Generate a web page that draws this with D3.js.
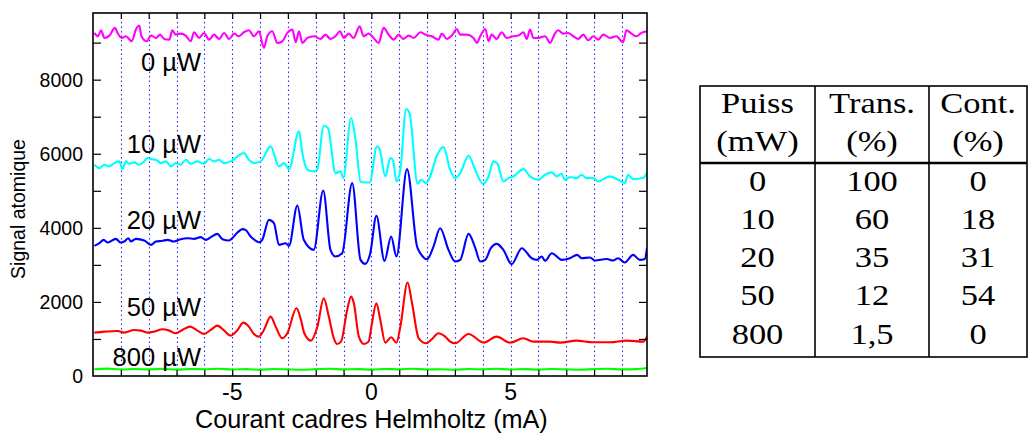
<!DOCTYPE html>
<html><head><meta charset="utf-8">
<script src="https://cdn.jsdelivr.net/npm/d3@7"></script>
<style>html,body{margin:0;padding:0;background:#fff;}svg{display:block;}</style>
</head><body>
<svg id="c" width="1029" height="433"></svg>
<script>
// ---- data ----
const xTickLabels = [-5, 0, 5];
const xMinorTicks = [-9,-8,-7,-6,-5,-4,-3,-2,-1,0,1,2,3,4,5,6,7,8,9];
const yTickLabels = [0, 2000, 4000, 6000, 8000];
const yMinorTicks = [1000,2000,3000,4000,5000,6000,7000,8000,9000];

const s0 = [[-9.95,9262],[-9.83,9172],[-9.71,9334],[-9.59,9127],[-9.41,9190],[-9.21,9398],[-9.12,9262],[-8.97,9127],[-8.82,9172],[-8.61,9037],[-8.46,9352],[-8.34,9461],[-8.26,9172],[-8.07,9037],[-7.92,9190],[-7.74,9127],[-7.59,9217],[-7.44,9100],[-7.26,9082],[-7.15,9334],[-7.03,9217],[-6.85,9244],[-6.67,9190],[-6.49,9037],[-6.37,9280],[-6.19,9127],[-6.01,9262],[-5.83,9082],[-5.65,9217],[-5.47,9100],[-5.29,9262],[-5.11,9100],[-4.93,9244],[-4.76,9172],[-4.58,9280],[-4.40,9334],[-4.22,9172],[-4.04,9307],[-3.86,8857],[-3.74,9172],[-3.56,9307],[-3.38,8992],[-3.20,9037],[-3.02,9262],[-2.84,9352],[-2.72,9010],[-2.60,9307],[-2.48,8992],[-2.30,9127],[-2.06,9172],[-1.83,9100],[-1.65,9217],[-1.47,9100],[-1.29,9172],[-1.13,9307],[-0.99,9127],[-0.81,9244],[-0.64,9127],[-0.42,9442],[-0.28,9172],[-0.10,9244],[0.08,9127],[0.26,8992],[0.44,9398],[0.62,9217],[0.80,9082],[0.98,9217],[1.14,9100],[1.34,9190],[1.52,9127],[1.76,9280],[1.94,9217],[2.17,9172],[2.41,9082],[2.53,9244],[2.71,9100],[2.89,9190],[3.07,9370],[3.19,9217],[3.43,9217],[3.67,9127],[3.79,8992],[3.91,9172],[4.09,9370],[4.21,9037],[4.32,9217],[4.50,9100],[4.68,9280],[4.86,9127],[5.10,9172],[5.28,9190],[5.46,9280],[5.58,9100],[5.70,9352],[5.82,9127],[6.00,9127],[6.24,9172],[6.42,8992],[6.59,9244],[6.71,9334],[6.89,9244],[7.07,9262],[7.25,9172],[7.43,9100],[7.61,9217],[7.79,9064],[7.97,9172],[8.15,9082],[8.33,9217],[8.57,9127],[8.80,9172],[9.04,9010],[9.16,9334],[9.34,9244],[9.52,9172],[9.70,9262],[9.90,9307]];

const s10 = [[-9.95,5703],[-9.77,5613],[-9.59,5703],[-9.41,5658],[-9.24,5748],[-9.06,5793],[-8.94,5586],[-8.82,5793],[-8.70,5730],[-8.52,5766],[-8.34,5703],[-8.16,5793],[-8.04,5884],[-7.92,5857],[-7.74,5838],[-7.56,5748],[-7.38,5793],[-7.20,5658],[-7.03,5748],[-6.85,5703],[-6.67,5838],[-6.49,5730],[-6.25,5793],[-6.01,5730],[-5.83,5857],[-5.65,5793],[-5.47,5838],[-5.29,5748],[-5.05,5793],[-4.81,5929],[-4.58,6019],[-4.40,5838],[-4.22,5748],[-3.98,5793],[-3.62,6199],[-3.32,5658],[-3.14,5748],[-2.96,5586],[-2.60,6604],[-2.48,6019],[-2.30,5568],[-2.06,5523],[-1.95,5568],[-1.71,6758],[-1.56,6694],[-1.29,5478],[-1.11,5523],[-1.01,5343],[-0.73,6965],[-0.57,6379],[-0.39,5252],[-0.22,5225],[-0.06,5225],[0.20,6198],[0.30,6109],[0.50,5387],[0.68,5884],[0.78,5820],[0.90,5252],[1.04,5568],[1.25,7209],[1.37,7100],[1.66,5190],[1.78,5298],[1.97,5209],[2.11,5387],[2.35,5947],[2.59,6180],[2.83,5568],[3.01,5341],[3.19,5478],[3.49,5947],[3.73,5568],[4.00,5190],[4.21,5387],[4.38,5793],[4.53,5730],[4.74,5253],[4.92,5343],[5.10,5388],[5.46,5586],[5.70,5388],[6.00,5298],[6.24,5433],[6.48,5496],[6.65,5388],[6.83,5460],[6.95,5298],[7.13,5370],[7.37,5343],[7.55,5433],[7.73,5343],[7.97,5343],[8.15,5253],[8.33,5316],[8.57,5388],[8.86,5298],[9.10,5208],[9.22,5433],[9.40,5316],[9.76,5343],[9.90,5496]];

const s20 = [[-9.95,3514],[-9.77,3585],[-9.62,3676],[-9.47,3603],[-9.18,3703],[-9.00,3603],[-8.88,3630],[-8.73,3720],[-8.64,3630],[-8.46,3703],[-8.16,3657],[-7.92,3541],[-7.74,3630],[-7.50,3650],[-7.32,3676],[-7.09,3630],[-6.85,3694],[-6.60,3720],[-6.37,3703],[-6.13,3748],[-5.95,3676],[-5.77,3748],[-5.53,3838],[-5.35,3694],[-5.11,3657],[-5.00,3720],[-4.81,3874],[-4.63,3965],[-4.52,3946],[-4.34,3766],[-4.16,3657],[-4.04,3610],[-3.92,3676],[-3.68,4216],[-3.50,4126],[-3.32,3541],[-3.08,3585],[-2.96,3514],[-2.66,4603],[-2.43,3676],[-2.07,3406],[-1.73,5010],[-1.47,3406],[-1.29,3225],[-1.05,3315],[-0.69,5207],[-0.39,3135],[-0.22,3027],[-0.04,3316],[0.18,4325],[0.47,3108],[0.71,3765],[0.90,3225],[1.28,5585],[1.64,3495],[1.76,3315],[2.00,3150],[2.23,3495],[2.47,3990],[2.77,3405],[3.01,3090],[3.19,3135],[3.49,3838],[3.73,3460],[3.91,3090],[4.09,3135],[4.29,3450],[4.50,3568],[4.74,3405],[5.04,3018],[5.40,3450],[5.76,3180],[5.94,3135],[6.12,3225],[6.24,3108],[6.48,3315],[6.84,3135],[7.13,3180],[7.39,3270],[7.55,3180],[7.85,3200],[8.03,3117],[8.45,3160],[8.68,3117],[8.86,3180],[9.10,3063],[9.40,3270],[9.64,3135],[9.82,3160],[9.90,3460]];

const s50 = [[-9.95,1171],[-9.59,1198],[-9.12,1216],[-8.88,1171],[-8.52,1243],[-8.28,1225],[-8.04,1171],[-7.80,1198],[-7.50,1261],[-7.26,1225],[-7.03,1153],[-6.79,1243],[-6.51,1333],[-6.25,1225],[-6.01,1135],[-5.77,1243],[-5.53,1360],[-5.29,1225],[-5.05,1090],[-4.81,1243],[-4.60,1441],[-4.40,1333],[-4.22,1135],[-4.04,1063],[-3.86,1243],[-3.62,1603],[-3.44,1333],[-3.20,1018],[-3.02,1153],[-2.69,1829],[-2.53,1514],[-2.41,1153],[-2.17,955],[-1.94,1333],[-1.71,2099],[-1.53,1604],[-1.35,1018],[-1.23,865],[-1.09,928],[-0.87,1784],[-0.73,2144],[-0.63,1964],[-0.45,1063],[-0.27,865],[-0.10,928],[0.02,1424],[0.18,1964],[0.32,1514],[0.50,901],[0.71,1045],[0.90,901],[1.04,1333],[1.30,2523],[1.46,1964],[1.70,1018],[1.97,883],[2.17,991],[2.41,1153],[2.65,1063],[2.83,928],[3.01,883],[3.49,1135],[4.03,901],[4.50,1063],[4.98,901],[5.46,1018],[5.82,928],[6.42,928],[6.78,901],[7.37,955],[7.97,910],[8.57,910],[9.16,955],[9.76,928],[9.90,1063]];

const s800 = [[-9.95,181],[-9.5,200],[-9.0,175],[-8.5,190],[-8.0,178],[-7.5,195],[-7.0,172],[-6.5,188],[-6.0,182],[-5.5,196],[-5.0,176],[-4.5,185],[-4.0,170],[-3.5,190],[-3.0,178],[-2.5,168],[-2.0,185],[-1.5,195],[-1.0,178],[-0.5,186],[0.0,172],[0.5,190],[1.0,180],[1.5,196],[2.0,176],[2.5,184],[3.0,170],[3.5,188],[4.0,180],[4.5,194],[5.0,175],[5.5,186],[6.0,172],[6.5,190],[7.0,180],[7.5,170],[8.0,185],[8.5,195],[9.0,178],[9.5,186],[9.9,215]];

const seriesNames = ["0 µW", "10 µW", "20 µW", "50 µW", "800 µW"];
const seriesColors = ["#ff00ff", "#00ffff", "#0000ff", "#ff0000", "#00ff00"];
const seriesData = [s0, s10, s20, s50, s800];
const labelY = [8234, 6020, 3969, 1620, 270]; // label baseline positions, in data units

const tableHeader1 = ["Puiss", "Trans.", "Cont."];
const tableHeader2 = ["(mW)", "(%)", "(%)"];
const colPuiss = ["0", "10", "20", "50", "800"];
const colTrans = ["100", "60", "35", "12", "1,5"];
const colCont = ["0", "18", "31", "54", "0"];

// ---- drawing ----
const svg = d3.select("#c");
const L = 93, R = 647, T = 13, B = 376;
const x = d3.scaleLinear().domain([-10, 9.9]).range([L, R]);
const y = d3.scaleLinear().domain([0, 9800]).range([B, T]);

svg.append("rect").attr("width", 1029).attr("height", 433).attr("fill", "#fff");

// vertical dotted grid
svg.append("g").selectAll("line").data(xMinorTicks).join("line")
  .attr("x1", d => Math.round(x(d)) + 0.5).attr("x2", d => Math.round(x(d)) + 0.5)
  .attr("y1", T).attr("y2", B)
  .attr("stroke", "#2a2aff").attr("stroke-width", 1.1).attr("stroke-dasharray", "1.5,3");

svg.append("clipPath").attr("id", "clip").append("rect")
  .attr("x", L).attr("y", T).attr("width", R - L).attr("height", B - T);

const line = d3.line().x(d => x(d[0])).y(d => y(d[1])).curve(d3.curveMonotoneX);
svg.append("g").attr("clip-path", "url(#clip)").selectAll("path").data(seriesData).join("path")
  .attr("d", line).attr("fill", "none")
  .attr("stroke", (d, i) => seriesColors[i]).attr("stroke-width", 2.1)
  .attr("stroke-linejoin", "round");

// axes (ticks inward on all four sides)
function axisStyle(g) {
  g.select(".domain").remove();
  g.selectAll(".tick line").attr("stroke", "#000").attr("stroke-width", 1.2);
  g.selectAll(".tick text").remove();
}
svg.append("g").attr("transform", `translate(0,${B})`)
  .call(d3.axisBottom(x).tickValues(xMinorTicks).tickSize(-6)).call(axisStyle);
svg.append("g").attr("transform", `translate(0,${T})`)
  .call(d3.axisTop(x).tickValues(xMinorTicks).tickSize(-6)).call(axisStyle);
svg.append("g").attr("transform", `translate(${L},0)`)
  .call(d3.axisLeft(y).tickValues(yMinorTicks).tickSize(-8)).call(axisStyle);
svg.append("g").attr("transform", `translate(${R},0)`)
  .call(d3.axisRight(y).tickValues(yMinorTicks).tickSize(-8)).call(axisStyle);

svg.append("rect").attr("x", L).attr("y", T).attr("width", R - L).attr("height", B - T)
  .attr("fill", "none").attr("stroke", "#000").attr("stroke-width", 1.6);

const sans = "'Liberation Sans', Arial, Helvetica, sans-serif";
// y tick labels
svg.append("g").selectAll("text").data(yTickLabels).join("text")
  .attr("x", 83).attr("y", d => y(d)).attr("dy", "0.36em")
  .attr("text-anchor", "end").attr("font-family", sans).attr("font-size", 19.5)
  .text(d => d);
// x tick labels
svg.append("g").selectAll("text").data(xTickLabels).join("text")
  .attr("x", d => x(d)).attr("y", 400)
  .attr("text-anchor", "middle").attr("font-family", sans).attr("font-size", 23)
  .text(d => d);
// axis titles
svg.append("text").attr("x", x(0)).attr("y", 428).attr("text-anchor", "middle")
  .attr("font-family", sans).attr("font-size", 25.2).text("Courant cadres Helmholtz (mA)");
svg.append("text").attr("transform", `translate(25,${209}) rotate(-90)`)
  .attr("text-anchor", "middle").attr("font-family", sans).attr("font-size", 19.5)
  .text("Signal atomique");

// series labels
svg.append("g").selectAll("text").data(seriesNames).join("text")
  .attr("x", 201).attr("y", (d, i) => y(labelY[i]))
  .attr("text-anchor", "end").attr("font-family", sans).attr("font-size", 25.5)
  .text(d => d);

// ---- table ----
const tL = 700, tR = 1027, tT = 86, tB = 357, tH = 163;
const colX = [tL, 815, 929, tR];
const tg = svg.append("g");
tg.append("rect").attr("x", tL).attr("y", tT).attr("width", tR - tL).attr("height", tB - tT)
  .attr("fill", "none").attr("stroke", "#000").attr("stroke-width", 1.6);
tg.selectAll("line.c").data([colX[1], colX[2]]).join("line")
  .attr("x1", d => d).attr("x2", d => d).attr("y1", tT).attr("y2", tB)
  .attr("stroke", "#000").attr("stroke-width", 1.6);
tg.append("line").attr("x1", tL).attr("x2", tR).attr("y1", tH).attr("y2", tH)
  .attr("stroke", "#000").attr("stroke-width", 2.6);

const serif = "'Liberation Serif', 'Times New Roman', serif";
function cell(txt, col, base) {
  const cx = (colX[col] + colX[col + 1]) / 2;
  tg.append("text").attr("transform", `translate(${cx},${base}) scale(1.15,1)`)
    .attr("text-anchor", "middle").attr("font-family", serif).attr("font-size", 30)
    .text(txt);
}
tableHeader1.forEach((t, i) => cell(t, i, 113));
tableHeader2.forEach((t, i) => cell(t, i, 151));
const rowBase = [191, 229, 267, 305, 344];
[colPuiss, colTrans, colCont].forEach((col, ci) => col.forEach((t, ri) => cell(t, ci, rowBase[ri])));
</script>
</body></html>
